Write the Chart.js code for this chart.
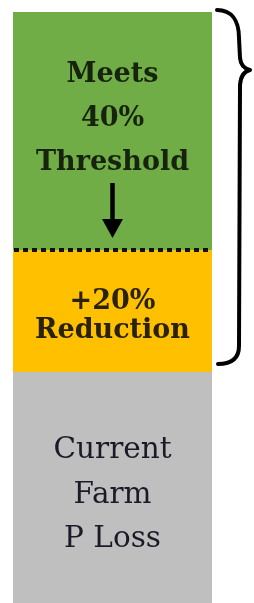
<!DOCTYPE html>
<html>
<head>
<meta charset="utf-8">
<script src="https://cdn.jsdelivr.net/npm/chart.js@4/dist/chart.umd.min.js"></script>
<style>
  html, body { margin: 0; padding: 0; background: #ffffff; }
  #wrap { width: 254px; height: 603px; }
</style>
</head>
<body>
<div id="wrap"><canvas id="c" width="254" height="603"></canvas></div>
<script>
// ---- data ----
const categories = ['Farm'];
const currentLoss = [231];   // grey segment
const reduction = [122];     // yellow segment
const threshold = [238];     // green segment
const seriesNames = ['Current Farm P Loss', '+20% Reduction', 'Meets 40% Threshold'];
const labelLines = [
  ['Current', 'Farm', 'P Loss'],
  ['+20%', 'Reduction'],
  ['Meets', '40%', 'Threshold']
];
const yMax = 603;

const segColors = ['#bfbfbf', '#ffc000', '#70ad47'];
const labelStyle = [
  { font: "29.5px 'DejaVu Serif'", color: '#1b1b28', lh: 44.5, first: -29.5 },
  { font: "bold 27px 'DejaVu Serif'", color: '#2a2205', lh: 29, first: -2 },
  { font: "bold 27px 'DejaVu Serif'", color: '#17230c', lh: 44, first: -49 }
];

const overlay = {
  id: 'overlay',
  afterDatasetsDraw(chart) {
    const ctx = chart.ctx;
    const metas = [0, 1, 2].map(i => chart.getDatasetMeta(i).data[0]);
    const cx = metas[0].x;
    const half = metas[0].width / 2;
    const left = cx - half, right = cx + half;

    // labels
    metas.forEach((el, i) => {
      const st = labelStyle[i];
      const mid = (el.y + el.base) / 2;
      ctx.save();
      ctx.font = st.font;
      ctx.fillStyle = st.color;
      ctx.textAlign = 'center';
      ctx.textBaseline = 'alphabetic';
      labelLines[i].forEach((t, k) => {
        ctx.fillText(t, cx, mid + st.first + k * st.lh);
      });
      ctx.restore();
    });

    // dotted threshold line at green/yellow boundary
    const yLine = metas[2].base;
    ctx.save();
    ctx.strokeStyle = '#111111';
    ctx.lineWidth = 4;
    ctx.setLineDash([5, 4]);
    ctx.beginPath();
    ctx.moveTo(left + 1, yLine);
    ctx.lineTo(right, yLine);
    ctx.stroke();
    ctx.restore();

    // downward arrow
    const tip = yLine - 12;
    ctx.save();
    ctx.fillStyle = '#000000';
    ctx.strokeStyle = '#000000';
    ctx.lineWidth = 4.5;
    ctx.beginPath();
    ctx.moveTo(cx, tip - 55);
    ctx.lineTo(cx, tip - 12);
    ctx.stroke();
    ctx.beginPath();
    ctx.moveTo(cx - 10.5, tip - 19);
    ctx.lineTo(cx + 10.5, tip - 19);
    ctx.lineTo(cx, tip);
    ctx.closePath();
    ctx.fill();
    ctx.restore();

    // curly brace spanning green + yellow
    const x0 = right + 5;
    const yT = metas[2].y - 2;
    const yB = metas[1].base - 8;
    ctx.save();
    ctx.strokeStyle = '#000000';
    ctx.lineWidth = 4;
    ctx.lineCap = 'round';
    ctx.lineJoin = 'round';
    ctx.beginPath();
    ctx.moveTo(x0, yT);
    ctx.bezierCurveTo(x0 + 14, yT, x0 + 22, yT + 10, x0 + 22, yT + 28);
    ctx.lineTo(x0 + 23, yT + 48);
    ctx.quadraticCurveTo(x0 + 24, yT + 58, x0 + 33, yT + 60);
    ctx.quadraticCurveTo(x0 + 24, yT + 62, x0 + 23, yT + 75);
    ctx.lineTo(x0 + 22, yB - 18);
    ctx.quadraticCurveTo(x0 + 22, yB, x0 + 1, yB);
    ctx.stroke();
    ctx.restore();
  }
};

new Chart(document.getElementById('c'), {
  type: 'bar',
  data: {
    labels: categories,
    datasets: [
      { label: seriesNames[0], data: currentLoss, backgroundColor: segColors[0] },
      { label: seriesNames[1], data: reduction, backgroundColor: segColors[1] },
      { label: seriesNames[2], data: threshold, backgroundColor: segColors[2] }
    ]
  },
  options: {
    responsive: false,
    animation: false,
    devicePixelRatio: 1,
    layout: { padding: { left: 13, right: 42, top: 0, bottom: 0 } },
    datasets: { bar: { barPercentage: 1, categoryPercentage: 1, borderWidth: 0, inflateAmount: 0 } },
    plugins: { legend: { display: false }, tooltip: { enabled: false } },
    scales: {
      x: { stacked: true, display: false },
      y: { stacked: true, display: false, min: 0, max: yMax }
    }
  },
  plugins: [overlay]
});
</script>
</body>
</html>
